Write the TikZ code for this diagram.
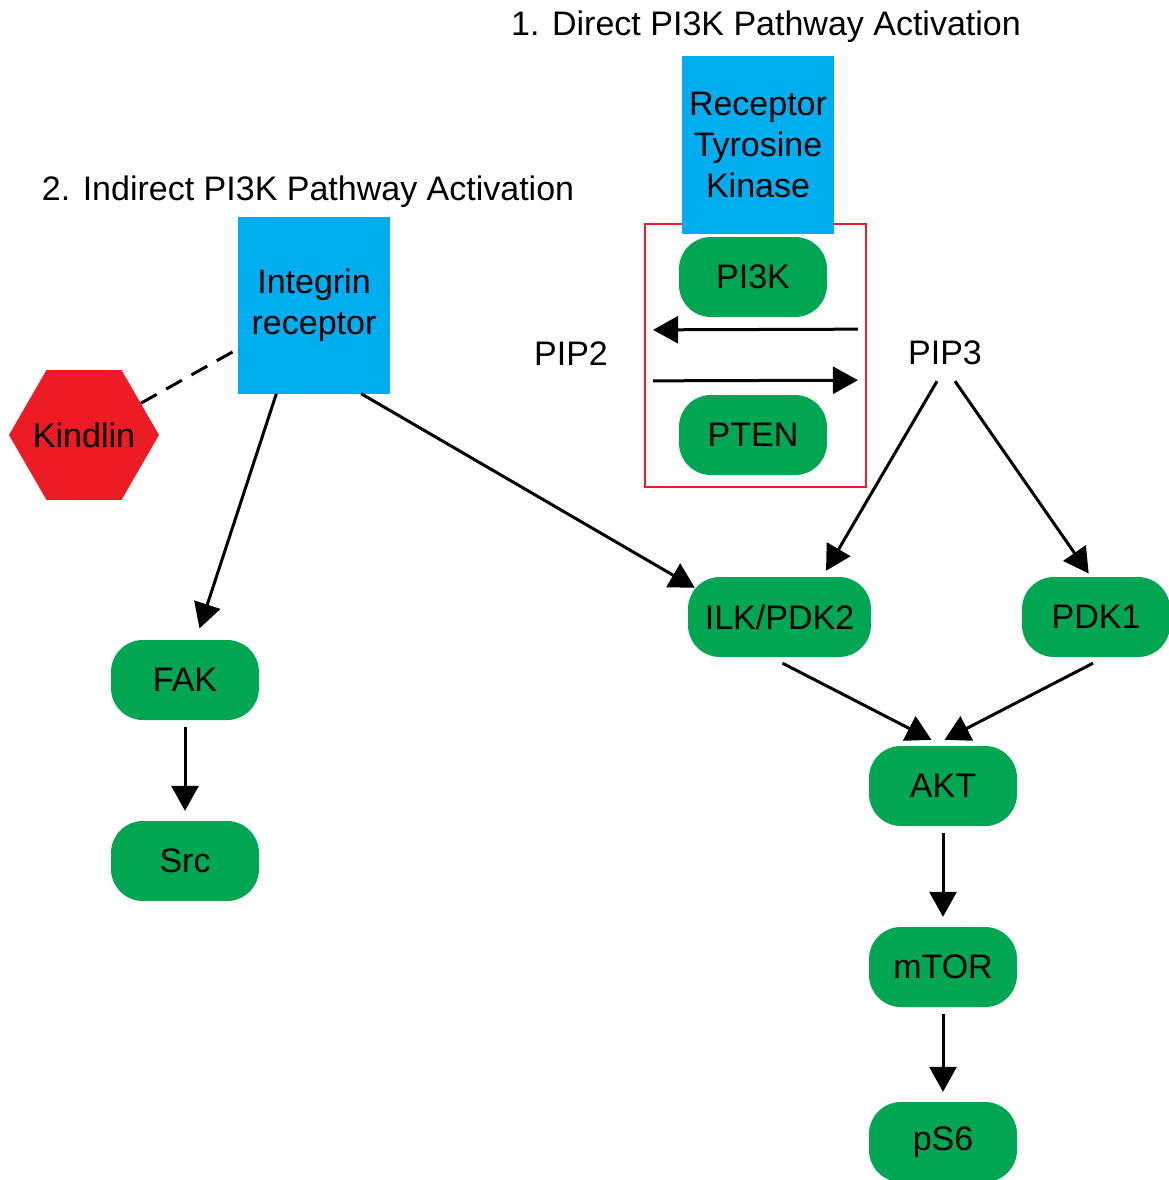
\documentclass[tikz,border=0pt]{standalone}
\usepackage{fontspec}
\setmainfont{Liberation Sans}
\usetikzlibrary{arrows.meta,shapes.geometric}
\definecolor{recblue}{RGB}{0,174,239}
\definecolor{protgreen}{RGB}{0,166,81}
\definecolor{inhred}{RGB}{237,28,36}

\begin{document}
\begin{tikzpicture}[x=1pt, y=-1pt,
  every node/.style={font=\fontsize{34}{41}\selectfont, inner sep=0pt},
  prot/.style={fill=protgreen, rounded corners=32pt, minimum width=148pt, minimum height=80pt},
  rec/.style={fill=recblue, minimum width=152pt, minimum height=177pt, align=center},
  link/.style={line width=3pt, -{Triangle[length=25pt, width=27pt]}}]
\useasboundingbox (0,0) rectangle (1168,1180);

\node (title1) at (766,27) {1. Direct PI3K Pathway Activation};
\node (title2) at (308,192) {2. Indirect PI3K Pathway Activation};

\draw[inhred, line width=2.5pt] (645,224) rectangle (866,487);
\node[rec] (rtk) at (758,145) {Receptor\\Tyrosine\\Kinase};
\node[rec] (integrin) at (314,305) {Integrin\\receptor};
\node[regular polygon, regular polygon sides=6, minimum size=150pt, fill=inhred] (kindlin) at (84,435) {\makebox[0pt]{Kindlin}};

\node[prot] (pi3k) at (753,277) {PI3K};
\node[prot] (pten) at (753,435) {PTEN};
\node (pip2) at (571,354) {PIP2};
\node (pip3) at (945,353) {PIP3};

\node[prot] (fak) at (185,680) {FAK};
\node[prot] (src) at (185,861) {Src};
\node[prot, minimum width=183pt] (ilk) at (779.5,617) {ILK/PDK2};
\node[prot] (pdk1) at (1096,617) {PDK1};
\node[prot] (akt) at (943,786) {AKT};
\node[prot] (mtor) at (943,967) {mTOR};
\node[prot] (ps6) at (943,1142) {pS6};

\draw[line width=3pt, dash pattern=on 18pt off 11pt, shorten >=6pt] (kindlin) -- (integrin.210);
\draw[link, shorten >=12pt] (integrin.-113) -- (fak.75);
\draw[link] (integrin.-62) -- ([shift={(7,11)}]ilk.north west);
\draw[link, shorten <=7pt, shorten >=10pt] (fak) -- (src);

\draw[link, shorten <=50pt, shorten >=45pt] ([yshift=24pt]pip3.west) -- ([yshift=24pt]pip2.east);
\draw[link, shorten <=45pt, shorten >=50pt] ([yshift=-27pt]pip2.east) -- ([yshift=-27pt]pip3.west);

\draw[link, shorten >=7pt] ([shift={(-8,16)}]pip3.south) -- ([xshift=43pt]ilk.north);
\draw[link, shorten >=4pt] ([shift={(10,16)}]pip3.south) -- ([xshift=-5pt]pdk1.north);
\draw[link, shorten >=13pt] ([shift={(3,6)}]ilk.south) -- (akt.north);
\draw[link, shorten >=13pt] ([shift={(-3,6)}]pdk1.south) -- ([xshift=-10pt]akt.north);
\draw[link, shorten <=7pt, shorten >=10pt] (akt) -- (mtor);
\draw[link, shorten <=7pt, shorten >=10pt] (mtor) -- (ps6);
\end{tikzpicture}
\end{document}
